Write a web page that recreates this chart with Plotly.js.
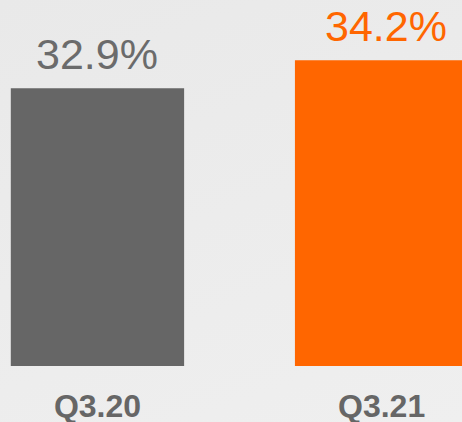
<!DOCTYPE html>
<html>
<head>
<meta charset="utf-8">
<script src="https://cdn.plot.ly/plotly-3.0.1.min.js"></script>
<style>
html, body { margin: 0; padding: 0; width: 462px; height: 422px; overflow: hidden;
  background: linear-gradient(160deg, #e9e9e9 0%, #ececec 50%, #efefef 100%); }
#chart { width: 462px; height: 422px; }
</style>
</head>
<body>
<div id="chart"></div>
<script>
var categories = ["Q3.20", "Q3.21"];
var values = [32.9, 34.2];
var valueLabels = ["32.9%", "34.2%"];
var barColors = ["#666666", "#ff6600"];
var labelColors = ["#6b6b6b", "#ff6600"];

var trace = {
  type: "bar",
  x: categories,
  y: values,
  marker: { color: barColors },
  width: 0.61,
  hoverinfo: "none"
};

var annotations = categories.map(function (c, i) {
  return {
    x: c, y: values[i], xref: "x", yref: "y",
    text: valueLabels[i], showarrow: false,
    yanchor: "bottom", yshift: 8, xshift: i === 1 ? 4 : 0,
    font: { family: "Liberation Sans, Arial, sans-serif", size: 43, color: labelColors[i] }
  };
});

var layout = {
  width: 462, height: 422,
  margin: { l: 0, r: 0, t: 0, b: 56, pad: 0 },
  paper_bgcolor: "rgba(0,0,0,0)",
  plot_bgcolor: "rgba(0,0,0,0)",
  showlegend: false,
  xaxis: {
    type: "category",
    range: [-0.343, 1.283],
    showgrid: false, zeroline: false, showline: false,
    ticks: "", ticklabelstandoff: 18,
    tickfont: { family: "Liberation Sans, Arial, sans-serif", size: 32, color: "#666666", weight: "bold" },
    fixedrange: true
  },
  yaxis: {
    range: [20, 37],
    visible: false, showgrid: false, zeroline: false,
    fixedrange: true
  },
  annotations: annotations
};

Plotly.newPlot("chart", [trace], layout, { displayModeBar: false, staticPlot: true });
</script>
</body>
</html>
